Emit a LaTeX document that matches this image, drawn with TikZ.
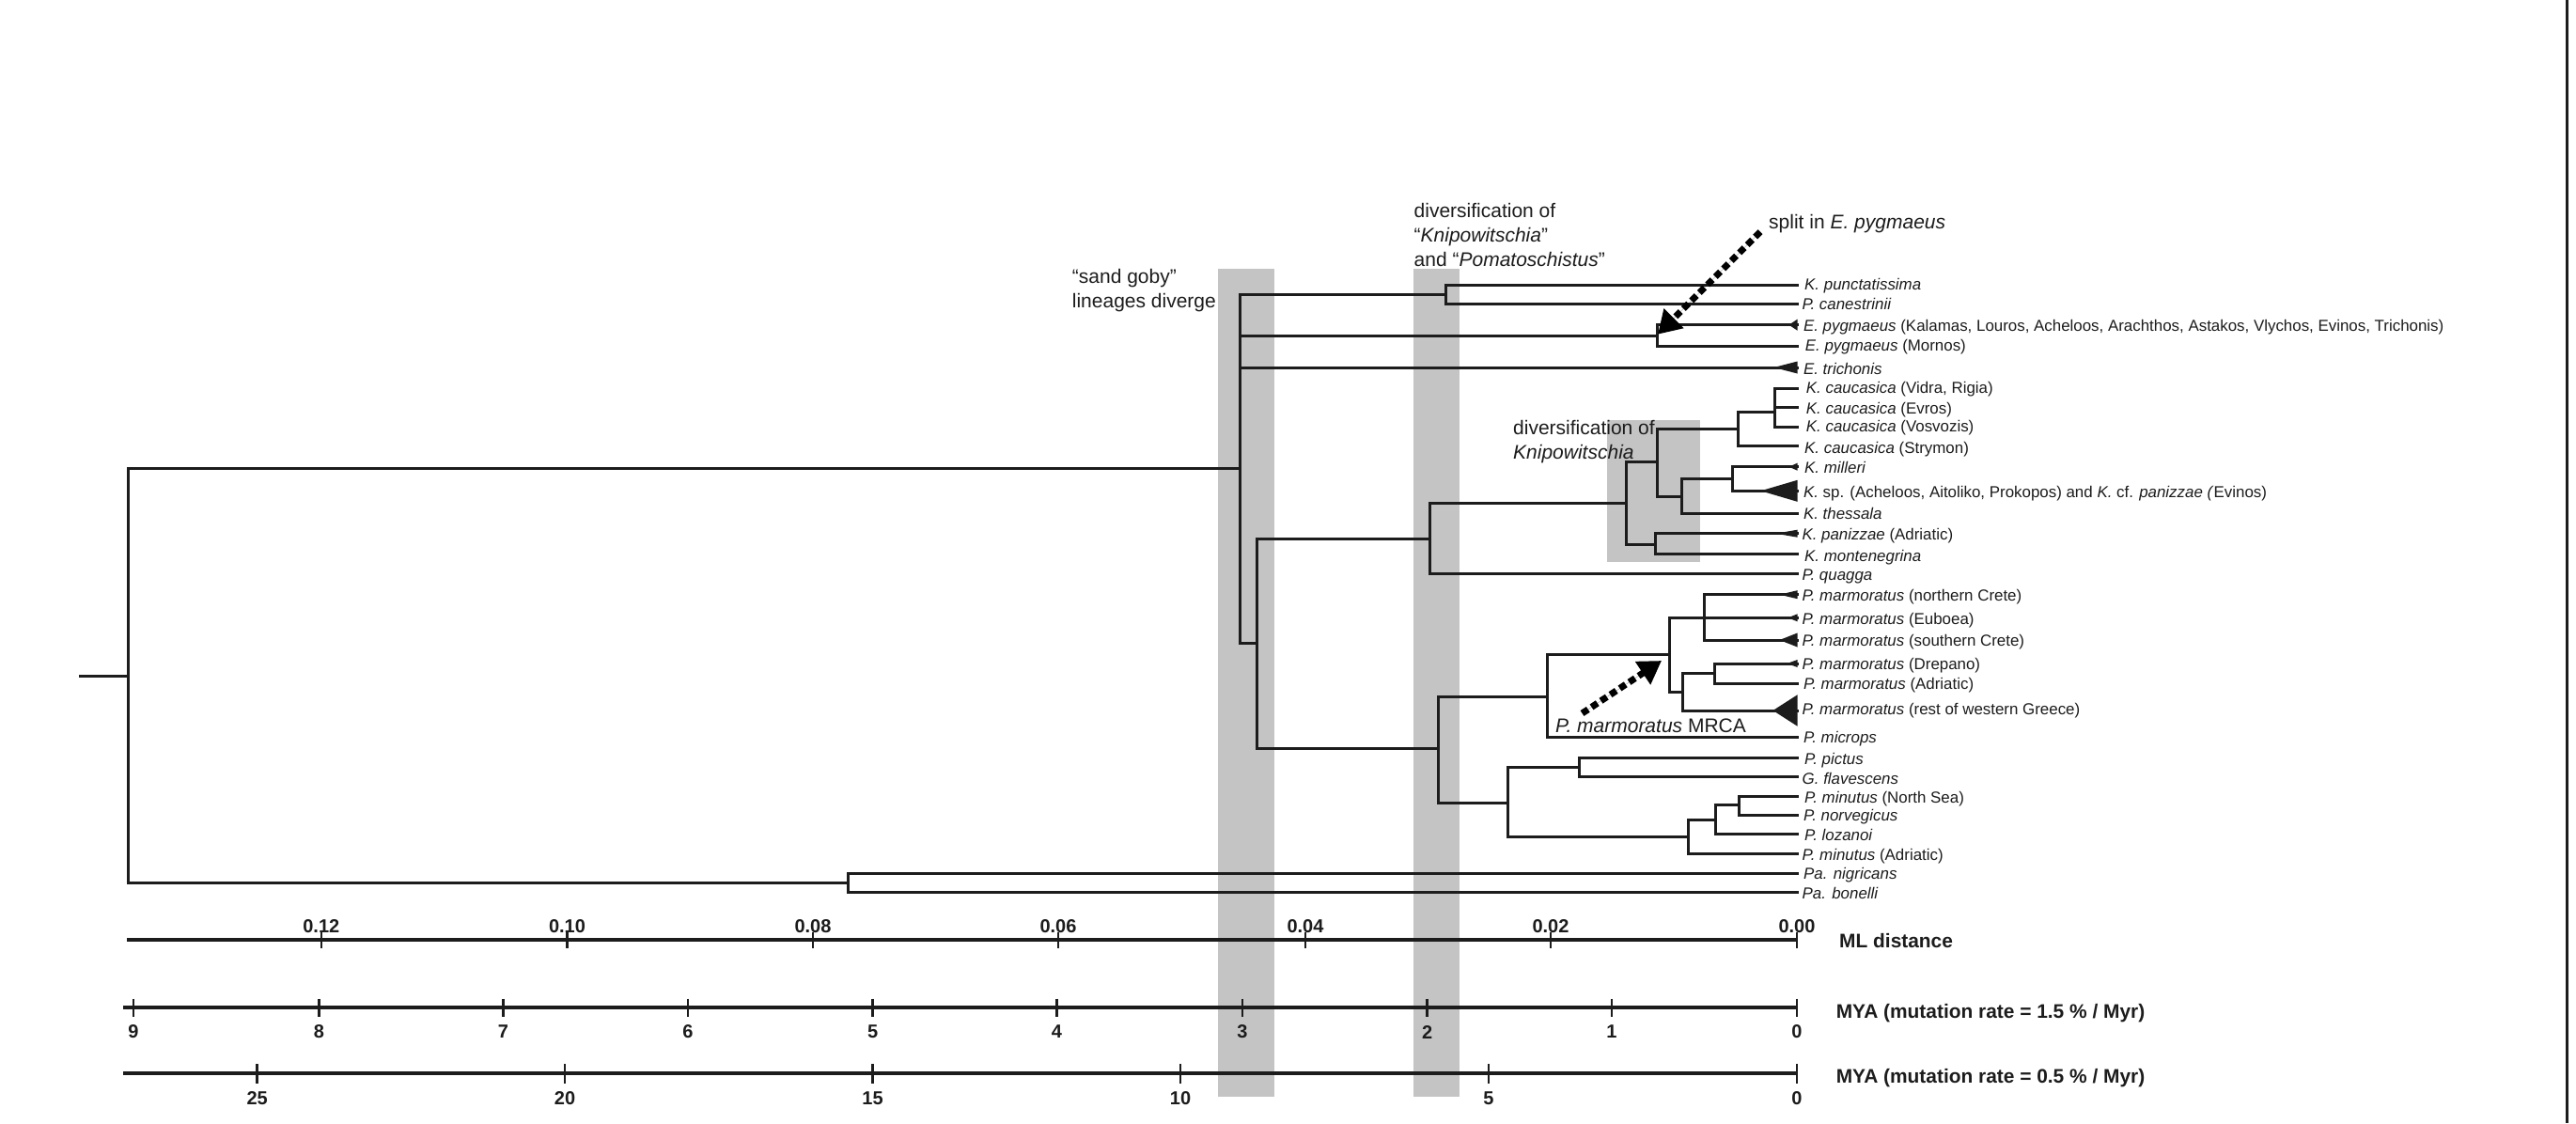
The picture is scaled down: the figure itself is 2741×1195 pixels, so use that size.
\documentclass[tikz,border=0pt]{standalone}
\usepackage{fontspec}
\setmainfont{Liberation Sans}
\usepackage{xcolor}
\usetikzlibrary{calc, positioning, arrows.meta}

\definecolor{bargray}{HTML}{C4C4C4}
\definecolor{inkgray}{HTML}{1C1C1C}

\tikzset{
  branch/.style={draw=inkgray,line width=3pt,line cap=rect},
  axisline/.style={draw=inkgray,line width=4pt},
  axistick/.style={draw=inkgray,line width=2.6pt},
  epoch/.style={fill=bargray,draw=none},
  taxon/.style={anchor=west,inner sep=0pt,text height=14pt,text depth=3pt,text=inkgray,font=\fontsize{16.9}{19}\selectfont},
  note/.style={anchor=west,inner sep=0pt,align=left,text=inkgray,font=\fontsize{21}{26}\selectfont},
  ticklabel/.style={inner sep=0pt,text=inkgray,font=\bfseries\fontsize{20}{24}\selectfont},
  axislabel/.style={anchor=west,inner sep=0pt,text=inkgray,font=\bfseries\fontsize{20.9}{24}\selectfont},
  pointer/.style={draw=black,fill=black,line width=7pt,dash pattern=on 7.5pt off 4.5pt,-{Triangle[length=24pt,width=28pt]}}
}

\begin{document}
\begin{tikzpicture}[x=1pt,y=-1pt]
\useasboundingbox (0,0) rectangle (2741,1195);

% grey time bands
\fill[epoch] (1296,286) rectangle (1356,1167);
\fill[epoch] (1503.5,286) rectangle (1552.5,1167);
\fill[epoch] (1710,447) rectangle (1808.5,598);

% page edge
\coordinate (edgetop) at (2731.5,0);
\coordinate (edgebot) at (2731.5,1195);
\draw[draw=inkgray,line width=3pt] (edgetop) -- (edgebot);

% tips of the tree
\foreach \tip/\ypos in {punct/303.3,canes/323.7,pygk/345.7,pygm/368.3,trich/391,
    vidra/413,evros/433.3,vosv/454,strym/474.3,mill/496.7,ksp/522.3,thess/546,
    panz/567.7,monten/589.3,quagga/610,ncrete/632.7,euboea/657.3,screte/681,
    drep/706,adria/727.7,rest/756,microps/784.7,pict/806.7,flav/826.7,
    minns/847,norv/867.3,loz/887.7,minad/908.3,nigr/929,bon/949.3}
  \coordinate (\tip) at (1912.5,\ypos);

% inner nodes
\coordinate (stem) at (85,719.3);
\coordinate (root) at (136.7,719.3);
\coordinate (goby) at (1319.3,498.7);
\coordinate (pada) at (902.7,939);
\coordinate (can) at (1538,313.7);
\coordinate (pyg) at (1763.8,357);
\coordinate (low) at (1337.3,684.3);
\coordinate (kq) at (1521.5,573);
\coordinate (pg) at (1530.5,796.7);
\coordinate (k1) at (1730.4,535.3);
\coordinate (k2) at (1763.8,491.7);
\coordinate (k3) at (1761.6,579);
\coordinate (k4) at (1849.5,456.7);
\coordinate (k5) at (1789.7,528);
\coordinate (k6) at (1888,438);
\coordinate (k7) at (1843.3,509.3);
\coordinate (m1) at (1646,741);
\coordinate (m2) at (1776.3,696.7);
\coordinate (m3) at (1790.6,736.7);
\coordinate (m4) at (1813,657.3);
\coordinate (m5) at (1824,716.7);
\coordinate (g1) at (1604.9,854);
\coordinate (g2) at (1680,816);
\coordinate (g3) at (1796.4,890.7);
\coordinate (g4) at (1825.9,872.7);
\coordinate (g5) at (1850.9,856.7);

% branches
\draw[branch] (stem) -- (root);
\draw[branch] (goby) -| (root) |- (pada);
\draw[branch] (nigr) -| (pada) |- (bon);
\draw[branch] (can) -| (goby) |- (low);
\draw[branch] (goby |- pyg) -- (pyg);
\draw[branch] (goby |- trich) -- (trich);
\draw[branch] (punct) -| (can) |- (canes);
\draw[branch] (pygk) -| (pyg) |- (pygm);
\draw[branch] (kq) -| (low) |- (pg);
\draw[branch] (k1) -| (kq) |- (quagga);
\draw[branch] (k2) -| (k1) |- (k3);
\draw[branch] (k4) -| (k2) |- (k5);
\draw[branch] (k6) -| (k4) |- (strym);
\draw[branch] (vidra) -| (k6) |- (vosv);
\draw[branch] (k6 |- evros) -- (evros);
\draw[branch] (k7) -| (k5) |- (thess);
\draw[branch] (mill) -| (k7) |- (ksp);
\draw[branch] (panz) -| (k3) |- (monten);
\draw[branch] (m1) -| (pg) |- (g1);
\draw[branch] (m2) -| (m1) |- (microps);
\draw[branch] (euboea) -| (m2) |- (m3);
\draw[branch] (ncrete) -| (m4) |- (screte);
\draw[branch] (m5) -| (m3) |- (rest);
\draw[branch] (drep) -| (m5) |- (adria);
\draw[branch] (g2) -| (g1) |- (g3);
\draw[branch] (pict) -| (g2) |- (flav);
\draw[branch] (g4) -| (g3) |- (minad);
\draw[branch] (g5) -| (g4) |- (loz);
\draw[branch] (minns) -| (g5) |- (norv);

% collapsed clades
\foreach \tip/\len/\half in {pygk/9/6,trich/25/6.5,mill/9/4,ksp/39/11.5,panz/23/4,
    ncrete/19/4.5,euboea/10/4,screte/19/7.5,drep/11/4,rest/26/16.7}
  \fill[inkgray] (\tip) ++(0,-\half) -- ++(-\len,\half) -- ++(\len,\half) -- cycle;

% taxon labels
\node[taxon] (lpunct) at (1920,303.3) {\textit{K. punctatissima}};
\node[taxon] (lcanes) at (1917.3,323.5) {\textit{P. canestrinii}};
\node[taxon] (lpygk) at (1918.8,347) {\textit{E. pygmaeus} (Kalamas, Louros, Acheloos, Arachthos, Astakos, Vlychos, Evinos, Trichonis)};
\node[taxon] (lpygm) at (1920.7,368.3) {\textit{E. pygmaeus} (Mornos)};
\node[taxon] (ltrich) at (1918.8,392.5) {\textit{E. trichonis}};
\node[taxon] (lvidra) at (1921.7,412.7) {\textit{K. caucasica} (Vidra, Rigia)};
\node[taxon] (levros) at (1921.7,435) {\textit{K. caucasica} (Evros)};
\node[taxon] (lvosv) at (1921.7,454) {\textit{K. caucasica} (Vosvozis)};
\node[taxon] (lstrym) at (1920,477) {\textit{K. caucasica} (Strymon)};
\node[taxon] (lmill) at (1920,498) {\textit{K. milleri}};
\node[taxon] (lksp) at (1918.8,524) {\textit{K.} sp. (Acheloos, Aitoliko, Prokopos) and \textit{K.} cf. \textit{panizzae (}Evinos)};
\node[taxon] (lthess) at (1918.8,546.7) {\textit{K. thessala}};
\node[taxon] (lpanz) at (1917.3,569) {\textit{K. panizzae} (Adriatic)};
\node[taxon] (lmonten) at (1920,591.7) {\textit{K. montenegrina}};
\node[taxon] (lquagga) at (1917.3,611.7) {\textit{P. quagga}};
\node[taxon] (lncrete) at (1917.5,634) {\textit{P. marmoratus} (northern Crete)};
\node[taxon] (leuboea) at (1917.5,659) {\textit{P. marmoratus} (Euboea)};
\node[taxon] (lscrete) at (1917.5,681.7) {\textit{P. marmoratus} (southern Crete)};
\node[taxon] (ldrep) at (1917.5,706.7) {\textit{P. marmoratus} (Drepano)};
\node[taxon] (ladria) at (1919,727.7) {\textit{P. marmoratus} (Adriatic)};
\node[taxon] (lrest) at (1917.5,755) {\textit{P. marmoratus} (rest of western Greece)};
\node[taxon] (lmicrops) at (1919,785) {\textit{P. microps}};
\node[taxon] (lpict) at (1920,807.7) {\textit{P. pictus}};
\node[taxon] (lflav) at (1917.5,829) {\textit{G. flavescens}};
\node[taxon] (lminns) at (1920,849) {\textit{P. minutus} (North Sea)};
\node[taxon] (lnorv) at (1919,868) {\textit{P. norvegicus}};
\node[taxon] (lloz) at (1920,889) {\textit{P. lozanoi}};
\node[taxon] (lminad) at (1917.5,910) {\textit{P. minutus} (Adriatic)};
\node[taxon] (lnigr) at (1919,930) {\textit{Pa. nigricans}};
\node[taxon] (lbon) at (1917.5,951) {\textit{Pa. bonelli}};

% events
\node[note] (sand) at (1140.7,309) {“sand goby”\\lineages diverge};
\node[note] (dive) at (1504.5,250) {diversification of\\“\textit{Knipowitschia}”\\and “\textit{Pomatoschistus}”};
\node[note] (divk) at (1610,470) {diversification of\\\textit{Knipowitschia}};
\node[note] (split) at (1882,237.7) {split in \textit{E. pygmaeus}};
\node[note] (mrca) at (1655,772) {\textit{P. marmoratus} MRCA};

% pointers
\coordinate (splitfrom) at (1873,246.7);
\coordinate (splitto) at (1764,355.7);
\coordinate (mrcafrom) at (1683.5,759);
\coordinate (mrcato) at (1768,703);
\draw[pointer] (splitfrom) -- (splitto);
\draw[pointer] (mrcafrom) -- (mrcato);

% ML distance axis
\coordinate (ml0) at (135,1000);
\coordinate (ml1) at (1912,1000);
\draw[axisline] (ml0) -- (ml1);
\foreach \xpos/\lab in {341.8/0.12,603.5/0.10,865/0.08,1126/0.06,1389/0.04,1650/0.02,1912/0.00}{
  \draw[axistick] (\xpos,991.7) -- (\xpos,1009.3);
  \node[ticklabel] (ml\lab) at (\xpos,985.5) {\lab};
}
\node[axislabel] (mlname) at (1957,1001.5) {ML distance};

% fast clock
\coordinate (fa0) at (131,1072.3);
\coordinate (fa1) at (1912,1072.3);
\draw[axisline] (fa0) -- (fa1);
\foreach \xpos/\lab in {142/9,339.5/8,535.4/7,732/6,928.6/5,1124.5/4,1322/3,1518.7/2,1715/1,1912/0}{
  \draw[axistick] (\xpos,1062.7) -- (\xpos,1082);
  \node[ticklabel] (fa\lab) at (\xpos,1098) {\lab};
}
\node[axislabel] (faname) at (1953.6,1078) {MYA (mutation rate = 1.5 \% / Myr)};

% slow clock
\coordinate (sl0) at (131,1142.3);
\coordinate (sl1) at (1912,1142.3);
\draw[axisline] (sl0) -- (sl1);
\foreach \xpos/\lab in {273.7/25,601/20,928.6/15,1256/10,1584/5,1912/0}{
  \draw[axistick] (\xpos,1132) -- (\xpos,1153);
  \node[ticklabel] (sl\lab) at (\xpos,1169) {\lab};
}
\node[axislabel] (slname) at (1953.6,1147) {MYA (mutation rate = 0.5 \% / Myr)};
\end{tikzpicture}
\end{document}
